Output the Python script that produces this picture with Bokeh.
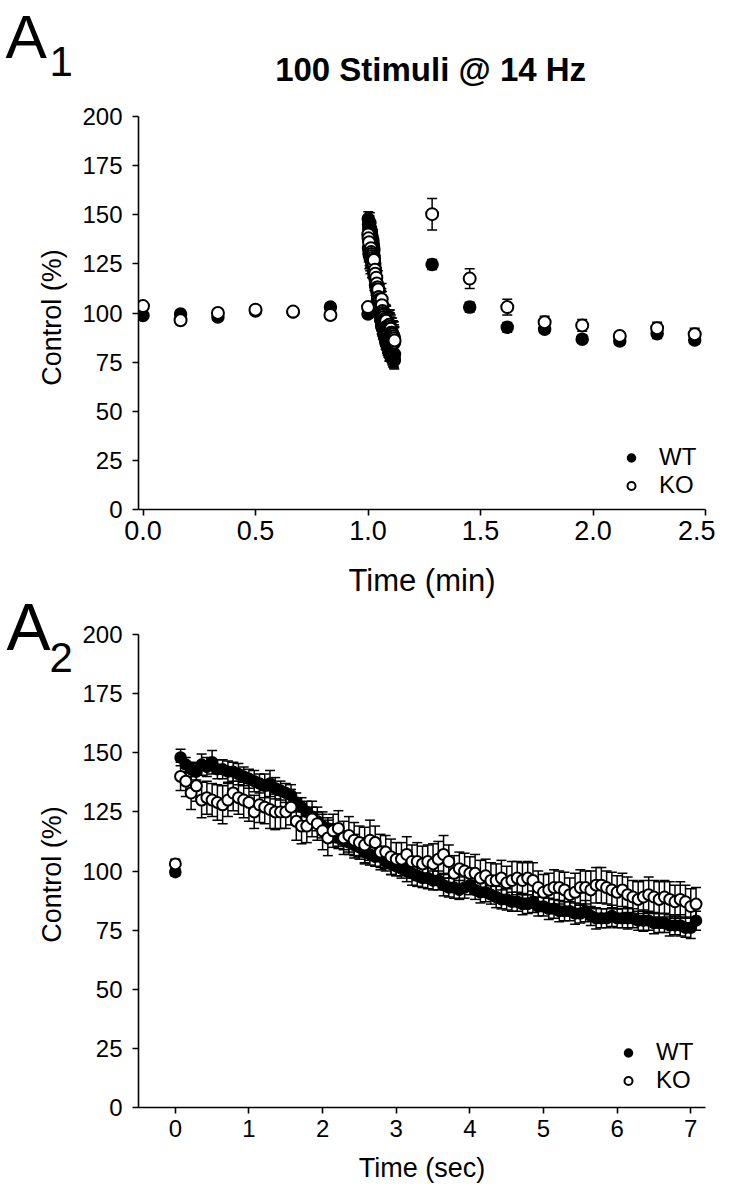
import math
from bokeh.plotting import figure
from bokeh.models import (Whisker, TeeHead, ColumnDataSource, Legend, LegendItem,
                          FixedTicker, NumeralTickFormatter, Range1d)
from bokeh.layouts import column, row
from bokeh.embed import file_html
from bokeh.resources import INLINE
from bokeh.core.properties import value

FONT = "Liberation Sans"

# ---------------- data ----------------
# baseline points (min) before the train
pre_t = [0.0, 0.167, 0.333, 0.5, 0.667, 0.833, 1.0]
pre_wt = [98.7, 99.5, 98.0, 101.0, 100.5, 103.0, 99.5]
pre_wt_sem = [1.5, 1.5, 1.5, 1.5, 1.5, 1.5, 1.5]
pre_ko = [103.5, 96.3, 100.0, 101.7, 100.7, 99.0, 103.0]
pre_ko_sem = [2.0, 2.0, 2.0, 2.0, 2.0, 2.0, 2.0]

# 100 stimuli @ 14 Hz (responses 1..99 after the baseline point), time in sec
stim_rate_hz = 14
n_stim = 99
train_wt = [148, 145, 143, 142, 145, 144, 146, 143, 143, 142,
            142, 141, 140, 139, 138, 137, 136, 137, 135, 134,
            133, 132, 129, 127, 125, 123, 121, 119, 118, 116,
            114, 113, 112, 111, 110, 108, 107, 106, 106, 104,
            103, 102, 101, 100, 99, 98, 97, 97, 96, 96,
            94, 93, 93, 92, 93, 94, 92, 91, 91, 90,
            89, 88, 88, 87, 87, 86, 86, 87, 85, 85,
            84, 84, 83, 83, 83, 82, 82, 83, 81, 80,
            80, 80, 81, 80, 80, 80, 80, 79, 79, 79,
            78, 78, 78, 77, 77, 77, 76, 76, 79]
train_wt_sem = [3.5, 3.0, 3.0, 3.5, 4.5, 4.0, 5.0, 4.0, 4.0, 4.5,
                4.0, 4.5, 4.0, 4.0, 4.5, 4.0, 5.0, 5.5, 4.5, 4.0,
                4.0, 4.5, 4.0, 4.0, 4.5, 4.0, 4.0, 5.0, 4.5, 4.0,
                4.5, 4.0, 4.0, 4.5, 4.0, 5.0, 4.5, 4.0, 4.5, 4.0,
                4.5, 4.0, 4.0, 4.5, 5.0, 4.5, 4.0, 4.5, 4.0, 4.0,
                4.5, 4.0, 4.5, 4.0, 4.5, 4.0, 4.0, 4.5, 4.0, 4.0,
                4.5, 4.0, 4.5, 4.0, 4.0, 4.5, 4.0, 4.5, 4.0, 4.0,
                4.5, 4.0, 4.5, 4.0, 4.0, 4.5, 4.0, 4.5, 4.0, 4.5,
                4.0, 4.0, 4.5, 4.0, 4.0, 4.5, 4.0, 4.0, 4.5, 4.0,
                4.5, 4.0, 4.0, 4.5, 4.0, 4.5, 4.0, 4.5, 4.0]
train_ko = [140, 138, 133, 136, 130, 131, 130, 129, 128, 130,
            133, 131, 130, 129, 125, 128, 127, 126, 125, 125,
            125, 127, 121, 119, 119, 122, 120, 117, 114, 117,
            118, 114, 115, 113, 112, 111, 113, 112, 108, 108,
            106, 105, 105, 107, 104, 104, 103, 104, 103, 105,
            107, 104, 99, 101, 100, 99, 99, 97, 98, 96,
            96, 97, 95, 96, 97, 96, 97, 96, 93, 91,
            92, 93, 93, 92, 90, 91, 93, 93, 92, 94,
            94, 93, 92, 91, 92, 90, 89, 88, 89, 90,
            89, 88, 89, 88, 87, 88, 87, 85, 86]
train_ko_sem = [6.0, 6.5, 7.0, 6.5, 7.5, 7.0, 7.0, 7.5, 8.0, 7.0,
                7.5, 7.0, 7.5, 8.0, 7.0, 7.5, 7.0, 8.0, 7.5, 7.0,
                7.0, 7.5, 8.0, 7.5, 7.0, 7.5, 7.0, 8.0, 7.5, 7.0,
                7.5, 7.0, 8.0, 7.5, 7.0, 7.5, 8.5, 7.0, 7.5, 7.0,
                7.5, 7.0, 7.0, 7.5, 7.0, 8.0, 7.5, 7.0, 8.5, 7.5,
                8.0, 7.0, 7.5, 7.0, 7.5, 7.0, 8.0, 7.5, 7.0, 7.5,
                7.0, 7.5, 7.0, 8.0, 7.0, 7.5, 7.0, 7.5, 7.0, 7.5,
                7.0, 7.5, 7.0, 7.5, 7.0, 8.0, 7.5, 7.0, 8.0, 7.5,
                7.5, 7.0, 7.5, 7.0, 7.0, 7.5, 7.0, 7.5, 7.0, 7.5,
                7.0, 7.5, 7.0, 7.5, 7.0, 7.5, 7.0, 7.5, 7.0]

# recovery points (min) after the train
post_t = [1.285, 1.452, 1.619, 1.785, 1.952, 2.119, 2.285, 2.452]
post_wt = [124.7, 103.0, 92.7, 91.7, 86.7, 85.8, 89.5, 86.3]
post_wt_sem = [2.5, 2.5, 2.5, 2.0, 2.0, 2.0, 2.5, 2.0]
post_ko = [150.3, 117.5, 103.0, 95.3, 93.7, 88.3, 92.3, 89.2]
post_ko_sem = [8.0, 5.0, 4.0, 3.0, 3.0, 2.0, 3.0, 3.0]

y_ticks = [0, 25, 50, 75, 100, 125, 150, 175, 200]
x1_ticks = [0.0, 0.5, 1.0, 1.5, 2.0, 2.5]
x2_ticks = [0, 1, 2, 3, 4, 5, 6, 7]

title_text = "100 Stimuli @ 14 Hz"
y_label = "Control (%)"

train_t_sec = [k / stim_rate_hz for k in range(1, n_stim + 1)]
train_start_min = pre_t[-1]


def make_src(x, y, e):
    return ColumnDataSource(dict(x=x, y=y,
                                 lo=[a - b for a, b in zip(y, e)],
                                 hi=[a + b for a, b in zip(y, e)]))


def blank(width, height, xr, yr):
    f = figure(width=width, height=height, x_range=Range1d(*xr), y_range=Range1d(*yr),
               x_axis_location=None, y_axis_location=None, min_border=0,
               output_backend="svg", toolbar_location=None)
    f.grid.visible = False
    f.outline_line_color = None
    f.background_fill_color = "white"
    f.border_fill_color = "white"
    return f


def style(p, xlabel, tick_size, label_size):
    p.grid.visible = False
    p.outline_line_color = None
    p.background_fill_color = "white"
    p.border_fill_color = "white"
    p.xaxis.axis_label = xlabel
    for ax in p.xaxis + p.yaxis:
        ax.axis_line_width = 1.6
        ax.axis_line_color = "black"
        ax.major_tick_line_width = 1.6
        ax.major_tick_line_color = "black"
        ax.major_tick_in = 0
        ax.major_tick_out = 6
        ax.minor_tick_line_color = None
        ax.major_label_text_font = FONT
        ax.major_label_text_font_size = "24px"
        ax.major_label_text_color = "black"
        ax.axis_label_text_font = FONT
        ax.axis_label_text_font_size = label_size
        ax.axis_label_text_font_style = "normal"
        ax.axis_label_text_color = "black"
    p.xaxis.major_label_text_font_size = tick_size
    p.yaxis.ticker = FixedTicker(ticks=y_ticks)


def add_series(p, wt_src, ko_src, size, legend_loc):
    for src in (wt_src, ko_src):
        p.add_layout(Whisker(source=src, base="x", lower="lo", upper="hi",
                             line_color="black", line_width=1.5,
                             lower_head=TeeHead(size=10, line_color="black", line_width=1.5),
                             upper_head=TeeHead(size=10, line_color="black", line_width=1.5)))
    r_wt = p.scatter("x", "y", source=wt_src, size=size, marker="circle",
                     fill_color="black", line_color="black", line_width=1.5)
    r_ko = p.scatter("x", "y", source=ko_src, size=size, marker="circle",
                     fill_color="white", line_color="black", line_width=2)
    leg = Legend(items=[LegendItem(label="WT", renderers=[r_wt]),
                        LegendItem(label="KO", renderers=[r_ko])],
                 location=legend_loc, orientation="vertical",
                 background_fill_alpha=0, border_line_alpha=0,
                 padding=0, margin=0, spacing=0,
                 glyph_width=20, glyph_height=27, label_height=27,
                 label_standoff=18,
                 label_text_font=FONT, label_text_font_size="24px",
                 label_text_color="black")
    p.add_layout(leg)


# ---------------- left strip: panel letters and y-axis titles ----------------
lf = blank(74, 1190, (8, 82), (1191, 1))
txt = dict(text_font=value(FONT), text_color="black", text_baseline="alphabetic",
           text_align="left")
lf.text(x=[13], y=[37], text=["A"], text_font_size=value("62px"), **txt)
lf.text(x=[14], y=[627], text=["A"], text_font_size=value("66px"), **txt)
lf.text(x=[57, 57], y=[62, 658], text=["1", "2"], text_font_size=value("42px"), **txt)
lf.text(x=[59, 59], y=[318, 875], text=[y_label, y_label], angle=math.pi / 2,
        text_font=value(FONT), text_font_size=value("27px"), text_color="black",
        text_align="center", text_baseline="middle")

# ---------------- header with the title ----------------
hd = blank(641, 100, (82, 723), (101, 1))
hd.text(x=[588], y=[70], text=[title_text], text_font=value(FONT),
        text_font_size=value("33px"), text_font_style="bold", text_color="black",
        text_align="right", text_baseline="alphabetic")

# ---------------- panel A1 ----------------
p1 = figure(width=641, height=509, output_backend="svg", toolbar_location=None,
            x_range=Range1d(-0.02, 2.5), y_range=Range1d(0, 200),
            min_border_left=57, min_border_right=10, min_border_top=16,
            min_border_bottom=100)
style(p1, "Time (min)", "27px", "31px")
p1.yaxis.major_label_standoff = 10
p1.xaxis.major_label_standoff = 5
p1.xaxis.axis_label_standoff = 20
p1.xaxis.ticker = FixedTicker(ticks=x1_ticks)
p1.xaxis.formatter = NumeralTickFormatter(format="0.0")

train_t_min = [train_start_min + t / 60 for t in train_t_sec]
wt1 = make_src(pre_t + train_t_min + post_t,
               pre_wt + train_wt + post_wt, pre_wt_sem + train_wt_sem + post_wt_sem)
ko1 = make_src(pre_t + train_t_min + post_t,
               pre_ko + train_ko + post_ko, pre_ko_sem + train_ko_sem + post_ko_sem)
add_series(p1, wt1, ko1, 12, (483, 10))

# ---------------- panel A2 ----------------
p2 = figure(width=641, height=581, output_backend="svg", toolbar_location=None,
            x_range=Range1d(-0.5, 7.2), y_range=Range1d(0, 200),
            min_border_left=64, min_border_right=8, min_border_top=25,
            min_border_bottom=83)
style(p2, "Time (sec)", "24px", "27px")
p2.yaxis.major_label_standoff = 10
p2.xaxis.major_label_standoff = 6
p2.xaxis.axis_label_standoff = 13
p2.xaxis.ticker = FixedTicker(ticks=x2_ticks)

wt2 = make_src([0.0] + train_t_sec, [pre_wt[-1]] + train_wt, [pre_wt_sem[-1]] + train_wt_sem)
ko2 = make_src([0.0] + train_t_sec, [pre_ko[-1]] + train_ko, [pre_ko_sem[-1]] + train_ko_sem)
add_series(p2, wt2, ko2, 11, (480, 13))

layout = row(lf, column(hd, p1, p2, spacing=0), spacing=0)
open("out.html", "w").write(file_html(layout, INLINE))
